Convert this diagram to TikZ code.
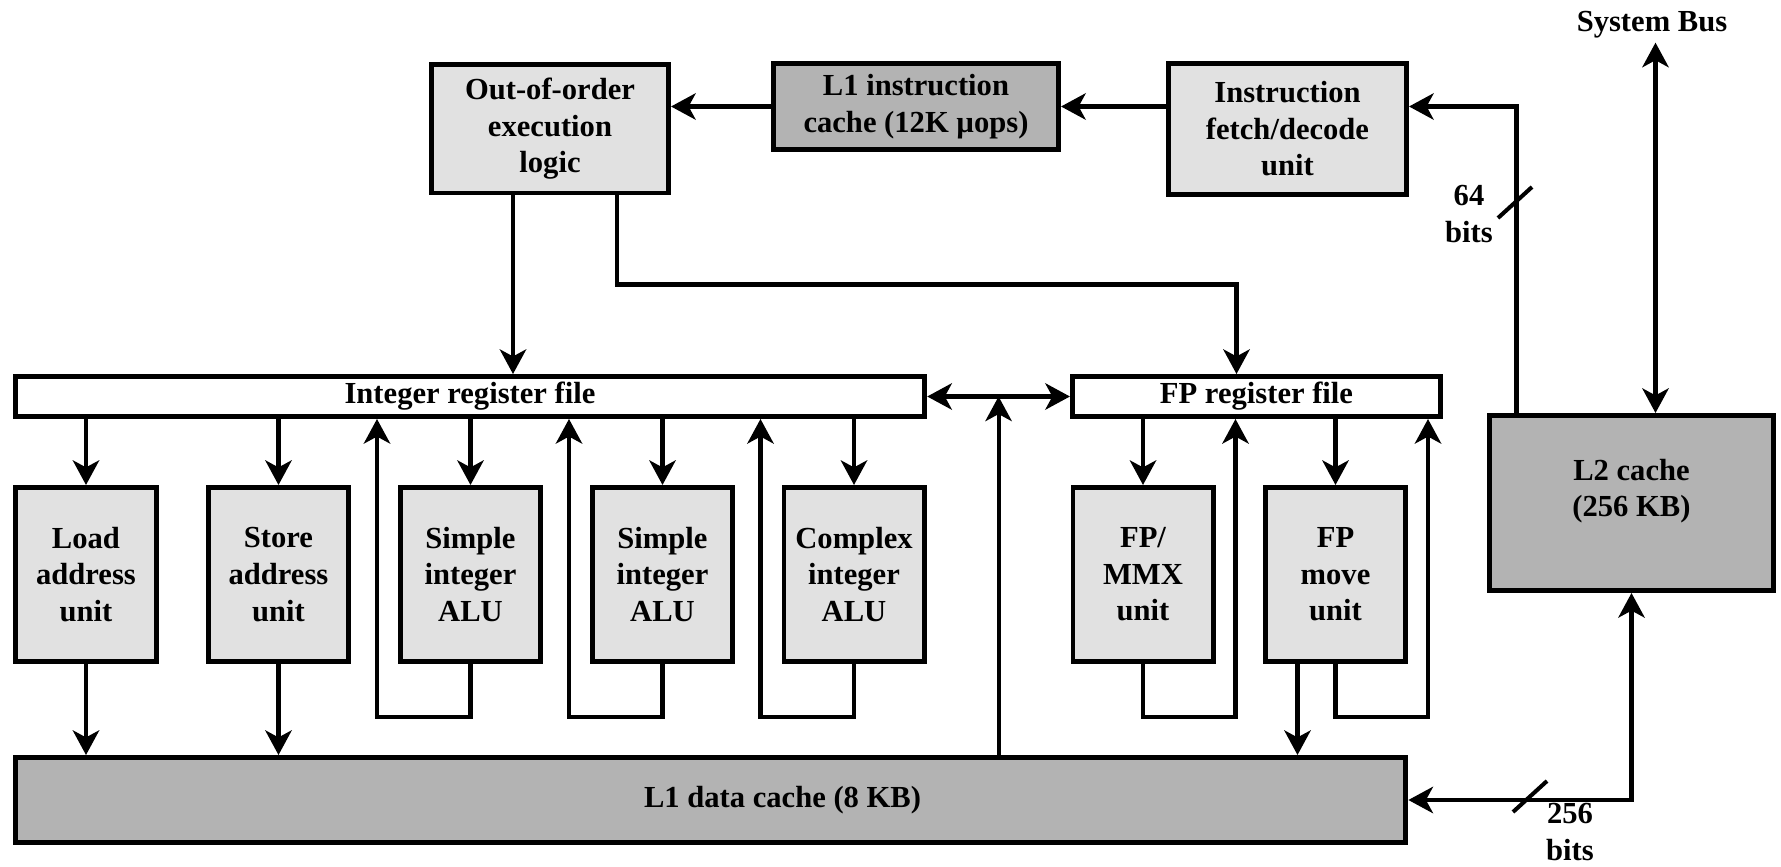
\documentclass[tikz,border=0pt]{standalone}
\usepackage{fontspec}
\setmainfont{Liberation Serif}
\usetikzlibrary{arrows.meta, calc, positioning}
\definecolor{unitgray}{HTML}{E1E1E1}
\definecolor{cachegray}{HTML}{B3B3B3}
\newcommand{\diagfont}{\fontsize{8.7pt}{10.4pt}\selectfont\bfseries}

\begin{document}
\begin{tikzpicture}[x=0.01cm, y=-0.01cm,
      every node/.style={font=\diagfont},
      unit/.style={rectangle, draw=black, line width=1.4pt, fill=unitgray,
                   minimum width=1.4cm, minimum height=1.74cm, align=center, inner sep=0pt},
      cache/.style={unit, fill=cachegray},
      regfile/.style={unit, fill=white, minimum height=0.4cm},
      lbl/.style={align=center, inner sep=1pt},
      arr/.style={-{Stealth[length=7pt, width=7.5pt, inset=2pt]}, line width=1.15pt},
      dbl/.style={{Stealth[length=7pt, width=7.5pt, inset=2pt]}-{Stealth[length=7pt, width=7.5pt, inset=2pt]}, line width=1.15pt},
      slash/.style={line width=1.15pt}]
      \useasboundingbox (0,0) rectangle (1781,867);
      % Front end
      \node[unit, minimum width=2.37cm, minimum height=1.28cm] (ooo) at (550,129) {Out-of-order\\execution\\logic};
      \node[cache, minimum width=2.85cm, minimum height=0.86cm] (l1i) at (916,106.5) {L1 instruction\\cache (12K µops)};
      \node[unit, minimum width=2.38cm, minimum height=1.31cm] (ifu) at (1287.5,129) {Instruction\\fetch/decode\\unit};
      \node[lbl] (sysbus) at (1652,25) {System Bus};
      % Register files
      \node[regfile, minimum width=9.09cm] (irf) at (470,396.5) {Integer register file};
      \node[regfile, minimum width=3.68cm] (frf) at (1256.5,396.5) {FP register file};
      % Execution units
      \node[unit] (load) at (86,574.5) {Load\\address\\unit};
      \node[unit] (store) at (278.5,574.5) {Store\\address\\unit};
      \node[unit] (salu1) at (470.5,574.5) {Simple\\integer\\ALU};
      \node[unit] (salu2) at (662.5,574.5) {Simple\\integer\\ALU};
      \node[unit] (calu) at (854,574.5) {Complex\\integer\\ALU};
      \node[unit] (fpmmx) at (1143,574.5) {FP/\\MMX\\unit};
      \node[unit] (fpmov) at (1335.5,574.5) {FP\\move\\unit};
      % Caches
      \node[cache, minimum width=13.9cm, minimum height=0.85cm,
            label={[xshift=0.72cm]center:L1 data cache (8 KB)}] (l1d) at (710.5,800) {};
      \node[cache, minimum width=2.84cm, minimum height=1.75cm,
            label={[yshift=0.12cm, align=center]center:L2 cache\\(256 KB)}] (l2) at (1631.5,503) {};
      % Tap points
      \coordinate (oq1) at ($(ooo.south)+(-37,0)$);
      \coordinate (oq2) at ($(ooo.south)+(67,0)$);
      \coordinate (fq) at ($(frf.north)+(-20,0)$);
      \coordinate (bus) at ($(irf.east)!0.5!(frf.west)$);
      \coordinate (l2a) at ($(l2.north)+(-115,0)$);
      \coordinate (l2b) at ($(l2.north)+(24,0)$);
      \coordinate (fm) at ($(fpmov.south)+(-38,0)$);
      % Instruction path
      \draw[arr] (l1i.west) -- (l1i.west -| ooo.east);
      \draw[arr] (ifu.west |- l1i.east) -- (l1i.east);
      \draw[arr] (l2a) |- (ifu.east |- l1i.east);
      \draw[slash] (1498,218) -- (1532,187);
      \node[lbl] (w64) at (1469,214) {64\\bits};
      \draw[dbl] (l2b |- sysbus.south) -- (l2b);
      \draw[arr] (oq1) -- (oq1 |- irf.north);
      \draw[arr] (oq2) -- ++(0,89) -| (fq);
      % Register file links
      \draw[dbl] (irf.east) -- (frf.west);
      \draw[arr] (bus |- l1d.north) -- (bus);
      % Integer units
      \foreach \u in {load,store,salu1,salu2,calu}
         \draw[arr] (\u.north |- irf.south) -- (\u.north);
      \foreach \u in {load,store}
         \draw[arr] (\u.south) -- (\u.south |- l1d.north);
      \foreach \u in {salu1,salu2,calu} {
         \coordinate (r-\u) at ($(\u.west)+(-21,0)$);
         \draw[arr] (\u.south) -- ++(0,53) -| (r-\u |- irf.south);
      }
      % FP units
      \foreach \u in {fpmmx,fpmov} {
         \draw[arr] (\u.north |- frf.south) -- (\u.north);
         \coordinate (r-\u) at ($(\u.east)+(20,0)$);
         \draw[arr] (\u.south) -- ++(0,53) -| (r-\u |- frf.south);
      }
      \draw[arr] (fm) -- (fm |- l1d.north);
      % L2 to L1 data cache
      \draw[dbl] (l1d.east) -| (l2.south);
      \draw[slash] (1513,812) -- (1547,781);
      \node[lbl] (w256) at (1570,832) {256\\bits};
   \end{tikzpicture}
\end{document}
